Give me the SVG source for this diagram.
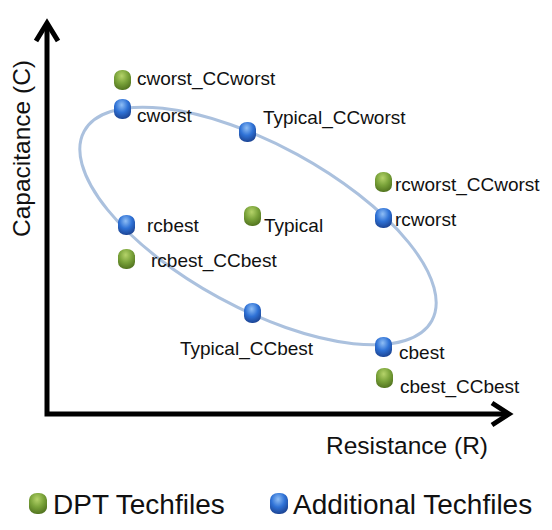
<svg xmlns="http://www.w3.org/2000/svg" width="552" height="530" viewBox="0 0 552 530">
<defs>
<radialGradient id="gGreen" cx="0.45" cy="0.3" r="0.75">
<stop offset="0" stop-color="#b5d36a"/>
<stop offset="0.5" stop-color="#7aa33a"/>
<stop offset="1" stop-color="#4d6e1c"/>
</radialGradient>
<radialGradient id="gBlue" cx="0.45" cy="0.3" r="0.75">
<stop offset="0" stop-color="#8fbef5"/>
<stop offset="0.5" stop-color="#2f72d6"/>
<stop offset="1" stop-color="#1a3f8c"/>
</radialGradient>
</defs>
<style>
.lbl{font-family:"Liberation Sans",Arial,sans-serif;font-size:19px;fill:#111}
.ax{font-family:"Liberation Sans",Arial,sans-serif;font-size:24.5px;fill:#111}
.leg{font-family:"Liberation Sans",Arial,sans-serif;font-size:28px;fill:#111}
.axis{fill:none;stroke:#000;stroke-width:5;stroke-linecap:butt;stroke-linejoin:miter}
.g{fill:url(#gGreen)}
.b{fill:url(#gBlue)}
</style>
<rect width="552" height="530" fill="#fff"/>
<g id="connectors">
<ellipse cx="258" cy="226" rx="198" ry="81.6" transform="rotate(28.6 258 226)" fill="none" stroke="#abc1de" stroke-width="3"/>
<path class="axis" d="M47 23 V414 H509"/>
<path class="axis" d="M36 41 L47 23 L58 41"/>
<path class="axis" d="M492 403 L509 414 L492 425"/>
</g>
<g id="axis-labels">
<text class="ax" transform="translate(30 237) rotate(-90)">Capacitance (C)</text>
<text class="ax" x="326" y="454">Resistance (R)</text>
</g>
<g id="n-cworst_CCworst"><rect class="g" x="114" y="70" width="17" height="20" rx="8" ry="7"/><text class="lbl" x="137" y="85">cworst_CCworst</text></g>
<g id="n-cworst"><rect class="b" x="114" y="99" width="17" height="20" rx="8" ry="7"/><text class="lbl" x="137" y="122">cworst</text></g>
<g id="n-Typical_CCworst"><rect class="b" x="239" y="122" width="17" height="20" rx="8" ry="7"/><text class="lbl" x="263" y="124">Typical_CCworst</text></g>
<g id="n-rcworst_CCworst"><rect class="g" x="375" y="172" width="17" height="20" rx="8" ry="7"/><text class="lbl" x="395" y="191">rcworst_CCworst</text></g>
<g id="n-rcworst"><rect class="b" x="375" y="208" width="17" height="20" rx="8" ry="7"/><text class="lbl" x="395" y="226">rcworst</text></g>
<g id="n-rcbest"><rect class="b" x="118" y="215" width="17" height="20" rx="8" ry="7"/><text class="lbl" x="147" y="232">rcbest</text></g>
<g id="n-Typical"><rect class="g" x="244" y="206" width="17" height="20" rx="8" ry="7"/><text class="lbl" x="264" y="232">Typical</text></g>
<g id="n-rcbest_CCbest"><rect class="g" x="118" y="249" width="17" height="20" rx="8" ry="7"/><text class="lbl" x="151" y="267">rcbest_CCbest</text></g>
<g id="n-Typical_CCbest"><rect class="b" x="244" y="303" width="17" height="20" rx="8" ry="7"/><text class="lbl" x="180" y="355">Typical_CCbest</text></g>
<g id="n-cbest"><rect class="b" x="375" y="337" width="17" height="20" rx="8" ry="7"/><text class="lbl" x="399" y="359">cbest</text></g>
<g id="n-cbest_CCbest"><rect class="g" x="376" y="368" width="17" height="20" rx="8" ry="7"/><text class="lbl" x="400" y="393">cbest_CCbest</text></g>
<g id="legend">
<rect class="g" x="29" y="493" width="18" height="21" rx="8" ry="7"/>
<text class="leg" x="53" y="514">DPT Techfiles</text>
<rect class="b" x="270" y="493" width="18" height="21" rx="8" ry="7"/>
<text class="leg" x="293" y="514">Additional Techfiles</text>
</g>
</svg>
